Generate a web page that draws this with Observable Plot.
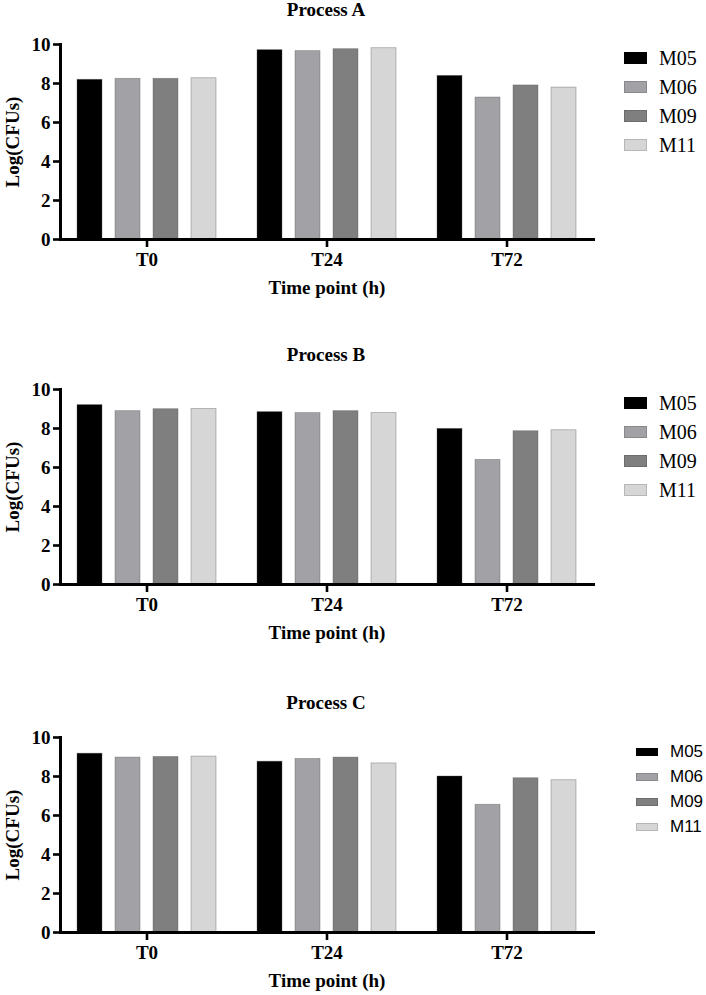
<!DOCTYPE html>
<html>
<head>
<meta charset="utf-8">
<script src="https://cdn.jsdelivr.net/npm/d3@7"></script>
<script src="https://cdn.jsdelivr.net/npm/@observablehq/plot@0.6"></script>
<style>
  body { margin: 0; background: #fff; }
  #chart { position: relative; width: 706px; height: 995px; }
  .panel { position: absolute; left: 0; width: 706px; height: 300px; }
  .title { position: absolute; left: 226px; width: 200px; top: -1px; text-align: center;
    font: bold 19px "Liberation Serif", serif; }
  .panel svg { position: absolute; left: 0; top: 20px; }
  .panel svg g[aria-label="frame"] *,
  .panel svg g[aria-label="y-axis tick"] *,
  .panel svg g[aria-label="fx-axis tick"] * { stroke-width: 2.6px !important; stroke: #000 !important; }
  .legend { position: absolute; }
  .legend .row { position: absolute; left: 0; display: flex; align-items: center; white-space: nowrap; }
  .legend .sw { box-sizing: border-box; border: 1px solid rgba(0,0,0,0.15); }
</style>
</head>
<body>
<div id="chart"></div>
<script>
const strains = ["M05", "M06", "M09", "M11"]
const timePoints = ["T0", "T24", "T72"]
const strainColors = ["#000000", "#a2a2a6", "#7f7f7f", "#d6d6d6"]
const yTicks = [0, 2, 4, 6, 8, 10]

// values per time point, in strain order
const processA = [
  [8.19, 8.24, 8.24, 8.27],
  [9.71, 9.66, 9.76, 9.81],
  [8.39, 7.28, 7.90, 7.79]
]
const processB = [
  [9.20, 8.89, 8.99, 9.00],
  [8.84, 8.79, 8.89, 8.79],
  [7.98, 6.39, 7.86, 7.91]
]
const processC = [
  [9.17, 8.97, 9.00, 9.02],
  [8.76, 8.90, 8.97, 8.67],
  [8.00, 6.55, 7.91, 7.81]
]

const panels = [
  {title: "Process A", values: processA, top: 0,
   legend: {left: 624, top: 50, gap: 29, sw: [23, 12], font: '20px "Liberation Serif", serif', pad: 12}},
  {title: "Process B", values: processB, top: 345,
   legend: {left: 624, top: 50, gap: 29, sw: [23, 12], font: '20px "Liberation Serif", serif', pad: 12}},
  {title: "Process C", values: processC, top: 693,
   legend: {left: 636, top: 51, gap: 25, sw: [22, 8], font: '17px "Liberation Sans", sans-serif', pad: 12}}
]

const chart = d3.select("#chart")

panels.forEach(p => {
  const rows = []
  timePoints.forEach((t, i) => strains.forEach((s, j) => rows.push({time: t, strain: s, value: p.values[i][j]})))

  const plot = Plot.plot({
    width: 600,
    height: 283,
    marginLeft: 60,
    marginRight: 7,
    marginTop: 24,
    marginBottom: 64,
    style: {fontFamily: '"Liberation Serif", serif', fontSize: "19px", fontWeight: "bold", color: "#000", background: "transparent"},
    fx: {domain: timePoints, padding: 0.04},
    x: {domain: strains, paddingInner: 0.35, paddingOuter: 0.45, axis: null},
    y: {domain: [0, 10]},
    color: {domain: strains, range: strainColors},
    marks: [
      Plot.barY(rows, {fx: "time", x: "strain", y: "value", fill: "strain", stroke: "#555", strokeOpacity: 0.45, strokeWidth: 0.8}),
      Plot.frame({anchor: "left", facet: "super", strokeWidth: 3}),
      Plot.frame({anchor: "bottom", facet: "super", strokeWidth: 3}),
      Plot.axisY({ticks: yTicks, tickSize: 7, tickPadding: 3, strokeWidth: 3,
        label: "Log(CFUs)", labelArrow: "none", labelAnchor: "center", labelOffset: 55}),
      Plot.axisFx({anchor: "bottom", tickSize: 8, tickPadding: 5, strokeWidth: 3,
        label: "Time point (h)", labelArrow: "none", labelAnchor: "center", labelOffset: 54})
    ]
  })

  const panel = chart.append("div").attr("class", "panel").style("top", p.top + "px")
  panel.append("div").attr("class", "title").text(p.title)
  panel.append(() => plot)

  const lg = panel.append("div").attr("class", "legend")
    .style("left", p.legend.left + "px").style("top", p.legend.top + "px")
  strains.forEach((s, i) => {
    const row = lg.append("div").attr("class", "row")
      .style("top", (i * p.legend.gap) + "px").style("height", "16px")
    row.append("div").attr("class", "sw")
      .style("width", p.legend.sw[0] + "px").style("height", p.legend.sw[1] + "px")
      .style("background", strainColors[i])
    row.append("span").text(s).style("font", p.legend.font).style("margin-left", p.legend.pad + "px")
  })
})
</script>
</body>
</html>
